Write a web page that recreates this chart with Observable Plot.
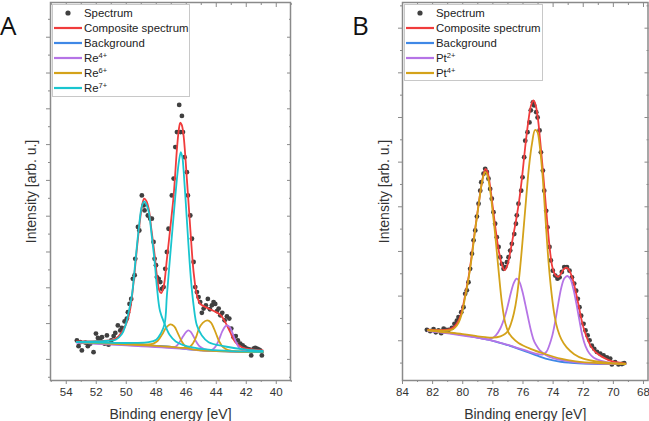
<!DOCTYPE html>
<html>
<head>
<meta charset="utf-8">
<script src="https://cdn.jsdelivr.net/npm/d3@7"></script>
<script src="https://cdn.jsdelivr.net/npm/@observablehq/plot@0.6"></script>
<style>
  body { margin: 0; background: #fff; }
  #fig { position: relative; width: 649px; height: 421px; overflow: hidden; font-family: "Liberation Sans", Arial, sans-serif; }
  .panel { position: absolute; top: 0; }
  .panel g[aria-label="x-axis label"], .panel g[aria-label="y-axis label"] { font-size: 14px; }
  .panel g[aria-label="x-axis tick label"] { font-size: 11.5px; }
  .tag { position: absolute; font-size: 26px; line-height: 26px; color: #111; font-family: "Open Sans", "Liberation Sans", sans-serif; }
  .legend { position: absolute; background: #fff; border: 1px solid #c8c8c8; box-sizing: border-box; }
  .legend .row { display: flex; align-items: center; height: 15.1px; font-size: 11.4px; color: #222; white-space: nowrap; }
  .legend svg { margin-left: 0.5px; margin-right: 2.5px; flex: none; }
  .legend sup { font-size: 7.5px; vertical-align: 4px; line-height: 0; }
</style>
</head>
<body>
<div id="fig"></div>
<script>
// ---------- Re 4f spectrum: [binding energy (eV), intensity (arb. u.)] ----------
const reSpectrum = [
  [53.29,0.53],[53.18,0.37],[53.07,0.48],[52.96,0.25],[52.73,0.47],[52.56,0.37],[52.40,0.44],[52.18,0.20],
  [52.02,0.72],[51.89,0.60],[51.73,0.53],[51.62,0.62],[51.44,0.44],[51.29,0.67],[51.18,0.41],[51.00,0.53],
  [50.84,0.65],[50.73,0.74],[50.56,0.95],[50.40,0.81],[50.29,0.88],[50.11,1.06],[49.96,1.14],[49.89,1.32],
  [49.78,1.55],[49.67,1.69],[49.56,2.25],[49.44,2.35],[49.40,2.81],[49.22,3.70],[49.13,3.60],[48.96,4.58],
  [48.84,4.30],[48.78,4.16],[48.56,4.02],[48.40,3.93],[48.29,3.93],[48.18,3.28],[48.11,2.81],[48.02,2.63],
  [47.96,2.30],[47.84,2.25],[47.73,2.16],[47.62,1.97],[47.51,2.02],[47.40,2.53],[47.29,3.00],[47.18,3.65],
  [46.96,4.58],[46.84,5.05],[46.73,5.93],[46.62,6.35],[46.47,7.11],[46.38,6.35],[46.29,6.80],[46.22,6.35],
  [46.11,5.65],[45.96,5.23],[45.89,4.58],[45.73,4.02],[45.62,3.37],[45.51,2.72],[45.40,2.02],[45.29,1.88],
  [45.18,1.74],[45.07,1.60],[44.96,1.30],[44.84,1.42],[44.69,1.51],[44.56,1.69],[44.42,1.40],[44.29,1.51],
  [44.18,1.60],[44.07,1.55],[43.95,1.35],[43.84,1.42],[43.73,1.23],[43.60,1.30],[43.44,1.09],[43.29,1.20],
  [43.13,1.14],[43.00,0.86],[42.84,0.62],[42.70,0.65],[42.56,0.53],[42.40,0.44],[42.24,0.39],[42.11,0.34],
  [41.96,0.30],[41.80,0.28],[41.67,0.11],[41.51,0.30],[41.40,0.32],[41.29,0.30],[41.18,0.28],[41.07,0.25],
  [40.96,0.11]
];
const reComposite = [
  [53.3,0.50],[52.0,0.51],[51.0,0.54],[50.7,0.58],[50.3,0.76],[49.96,1.04],[49.73,1.42],[49.51,2.16],
  [49.29,3.09],[49.07,3.93],[48.92,4.35],[48.8,4.49],[48.65,4.42],[48.5,4.20],[48.33,3.65],[48.13,3.00],
  [47.96,2.35],[47.8,1.93],[47.67,1.85],[47.51,2.02],[47.29,2.80],[47.07,3.65],[46.84,4.58],[46.62,5.88],
  [46.5,6.40],[46.4,6.61],[46.3,6.55],[46.18,6.26],[45.96,5.05],[45.73,3.65],[45.51,2.44],[45.29,1.79],
  [45.07,1.55],[44.8,1.48],[44.51,1.42],[44.2,1.36],[43.84,1.28],[43.6,1.18],[43.4,1.04],[43.07,0.76],
  [42.73,0.48],[42.29,0.34],[41.5,0.27],[40.9,0.25]
];
const reBackground = [
  [53.3,0.48],[52.0,0.47],[51.0,0.46],[50.0,0.45],[49.5,0.44],[49.0,0.42],[48.5,0.40],[48.0,0.38],
  [47.5,0.37],[47.0,0.35],[46.5,0.32],[46.0,0.29],[45.5,0.27],[45.0,0.25],[44.5,0.24],[44.0,0.23],
  [43.0,0.22],[42.0,0.21],[40.9,0.20]
];
const re4a = [
  [53.3,0.47],[48.0,0.36],[47.0,0.34],[46.7,0.36],[46.45,0.48],[46.2,0.65],[46.0,0.77],[45.87,0.81],
  [45.7,0.77],[45.5,0.63],[45.3,0.47],[45.1,0.36],[44.8,0.29],[44.3,0.25],[43.0,0.22],[40.9,0.20]
];
const re4b = [
  [53.3,0.47],[46.0,0.29],[45.0,0.25],[44.4,0.25],[44.1,0.33],[43.85,0.52],[43.6,0.78],[43.4,0.92],
  [43.28,0.95],[43.1,0.90],[42.9,0.72],[42.7,0.50],[42.5,0.34],[42.3,0.26],[41.8,0.22],[40.9,0.20]
];
const re6a = [
  [53.3,0.48],[50.0,0.45],[48.6,0.42],[48.2,0.44],[47.9,0.52],[47.6,0.70],[47.35,0.88],[47.05,0.98],
  [46.8,0.92],[46.55,0.72],[46.3,0.50],[46.05,0.36],[45.8,0.30],[45.5,0.27],[45.0,0.25],[44.0,0.23],
  [42.0,0.21],[40.9,0.20]
];
const re6b = [
  [53.3,0.48],[48.0,0.38],[47.0,0.35],[46.2,0.32],[45.85,0.33],[45.6,0.42],[45.35,0.62],[45.15,0.86],
  [44.9,1.02],[44.6,1.09],[44.35,1.03],[44.15,0.86],[43.95,0.65],[43.8,0.50],[43.55,0.34],[43.2,0.26],
  [42.5,0.22],[40.9,0.20]
];
const re7a = [
  [53.3,0.49],[52.0,0.50],[51.2,0.52],[50.7,0.55],[50.3,0.70],[50.05,0.95],[49.85,1.30],[49.62,1.80],
  [49.4,2.70],[49.18,3.60],[48.96,4.28],[48.8,4.41],[48.65,4.32],[48.5,4.12],[48.3,3.45],[48.1,2.70],
  [47.95,2.00],[47.75,1.35],[47.45,1.00],[47.1,0.68],[46.7,0.50],[46.2,0.40],[45.5,0.33],[44.5,0.27],
  [43.0,0.23],[40.9,0.21]
];
const re7b = [
  [53.3,0.48],[51.0,0.46],[49.5,0.46],[48.5,0.48],[48.0,0.55],[47.7,0.72],[47.44,1.00],[47.29,1.79],
  [47.07,2.90],[46.84,4.02],[46.62,5.05],[46.48,5.55],[46.36,5.79],[46.25,5.62],[46.18,5.30],[46.02,4.30],
  [45.85,3.18],[45.69,2.25],[45.51,1.51],[45.29,0.95],[44.96,0.67],[44.51,0.48],[43.4,0.36],[42.0,0.27],
  [40.9,0.24]
];

// ---------- Pt 4f spectrum: [binding energy (eV), intensity (arb. u.)] ----------
const ptSpectrum = [
  [82.38,0.245],[82.16,0.215],[81.94,0.26],[81.79,0.19],[81.61,0.23],[81.43,0.17],[81.27,0.27],[81.12,0.245],
  [80.94,0.245],[80.72,0.29],[80.55,0.38],[80.39,0.45],[80.28,0.53],[80.10,0.64],[79.95,0.75],[79.84,1.05],
  [79.73,1.13],[79.62,1.31],[79.51,1.61],[79.39,1.95],[79.28,2.25],[79.17,2.47],[79.06,2.78],[78.95,3.07],
  [78.84,3.36],[78.77,3.55],[78.62,3.74],[78.51,3.85],[78.40,3.78],[78.29,3.63],[78.18,3.40],[78.07,3.18],
  [77.96,2.88],[77.85,2.62],[77.74,2.32],[77.62,2.10],[77.51,1.87],[77.40,1.72],[77.29,1.61],[77.18,1.65],
  [77.07,1.76],[76.96,1.87],[76.85,2.02],[76.74,2.17],[76.58,2.39],[76.47,2.62],[76.41,2.81],[76.30,3.07],
  [76.12,3.36],[76.03,3.66],[75.92,4.11],[75.85,4.48],[75.70,4.67],[75.57,4.89],[75.48,5.16],[75.34,5.34],
  [75.26,5.27],[75.12,5.12],[75.03,5.00],[74.90,4.71],[74.81,4.22],[74.68,3.81],[74.59,3.36],[74.46,2.91],
  [74.37,2.54],[74.24,2.10],[74.15,1.80],[74.02,1.57],[73.86,1.46],[73.71,1.39],[73.57,1.42],[73.42,1.54],
  [73.26,1.65],[73.08,1.65],[72.91,1.57],[72.75,1.42],[72.60,1.28],[72.47,1.12],[72.36,0.94],[72.25,0.75],
  [72.14,0.56],[71.98,0.38],[71.85,0.23],[71.71,0.12],[71.58,0.01],[71.43,-0.11],[71.27,-0.18],[71.09,-0.25],
  [70.87,-0.29],[70.65,-0.33],[70.43,-0.37],[70.21,-0.40],[70.10,-0.53],[69.88,-0.48],[69.66,-0.53],[69.43,-0.52],
  [69.28,-0.50]
];
const ptComposite = [
  [82.3,0.25],[81.5,0.24],[81.0,0.25],[80.72,0.28],[80.5,0.34],[80.28,0.45],[80.05,0.68],[79.84,1.02],
  [79.6,1.45],[79.39,1.95],[79.17,2.52],[78.95,3.05],[78.75,3.50],[78.6,3.75],[78.48,3.85],[78.35,3.78],
  [78.18,3.45],[78.0,2.98],[77.8,2.45],[77.6,2.00],[77.4,1.70],[77.22,1.58],[77.05,1.68],[76.85,1.98],
  [76.65,2.35],[76.45,2.72],[76.25,3.15],[76.05,3.70],[75.85,4.35],[75.65,4.90],[75.48,5.25],[75.32,5.38],
  [75.18,5.30],[75.02,5.00],[74.85,4.45],[74.65,3.70],[74.45,2.90],[74.25,2.15],[74.05,1.65],[73.85,1.47],
  [73.65,1.43],[73.45,1.52],[73.25,1.62],[73.05,1.63],[72.9,1.56],[72.7,1.38],[72.5,1.10],[72.3,0.78],
  [72.1,0.45],[71.9,0.20],[71.7,0.02],[71.5,-0.12],[71.2,-0.25],[70.8,-0.35],[70.4,-0.42],[70.0,-0.47],
  [69.2,-0.51]
];
const ptBackground = [
  [82.3,0.22],[81.0,0.18],[80.0,0.13],[79.0,0.07],[78.0,0.00],[77.0,-0.10],[76.3,-0.18],[75.5,-0.28],
  [75.0,-0.34],[74.5,-0.40],[74.0,-0.44],[73.5,-0.47],[73.0,-0.49],[72.0,-0.51],[71.0,-0.52],[69.2,-0.52]
];
const pt2a = [
  [82.3,0.22],[80.0,0.13],[79.0,0.07],[78.4,0.03],[78.1,0.05],[77.8,0.12],[77.5,0.28],[77.2,0.55],
  [77.0,0.80],[76.8,1.08],[76.6,1.30],[76.42,1.39],[76.25,1.33],[76.05,1.12],[75.85,0.82],[75.65,0.50],
  [75.45,0.20],[75.25,-0.02],[75.0,-0.16],[74.8,-0.24],[74.5,-0.32],[74.0,-0.39],[73.0,-0.46],[72.0,-0.50],
  [69.2,-0.52]
];
const pt2b = [
  [82.3,0.22],[78.0,0.00],[76.0,-0.20],[75.0,-0.30],[74.7,-0.31],[74.45,-0.25],[74.25,-0.10],[74.05,0.12],
  [73.85,0.45],[73.65,0.85],[73.45,1.20],[73.25,1.40],[73.05,1.45],[72.85,1.38],[72.65,1.15],[72.45,0.82],
  [72.25,0.45],[72.05,0.10],[71.85,-0.12],[71.6,-0.28],[71.3,-0.38],[70.8,-0.45],[70.0,-0.50],[69.2,-0.52]
];
const pt4a = [
  [82.3,0.24],[81.5,0.23],[81.0,0.23],[80.72,0.25],[80.5,0.30],[80.28,0.40],[80.05,0.62],[79.84,0.98],
  [79.6,1.42],[79.39,1.90],[79.17,2.50],[78.95,3.03],[78.75,3.50],[78.6,3.72],[78.5,3.78],[78.38,3.72],
  [78.18,3.36],[78.0,2.85],[77.85,2.39],[77.62,1.57],[77.4,0.85],[77.18,0.40],[76.95,0.18],[76.74,0.08],
  [76.3,-0.05],[75.5,-0.18],[74.5,-0.30],[73.5,-0.40],[72.5,-0.46],[71.0,-0.50],[69.2,-0.52]
];
const pt4b = [
  [82.3,0.23],[80.0,0.15],[79.0,0.10],[78.5,0.08],[78.0,0.07],[77.5,0.10],[77.2,0.15],[77.0,0.22],
  [76.8,0.38],[76.6,0.62],[76.4,1.00],[76.2,1.60],[76.0,2.35],[75.8,3.15],[75.6,3.90],[75.4,4.42],
  [75.2,4.72],[75.05,4.68],[74.9,4.40],[74.7,3.70],[74.5,2.70],[74.3,1.75],[74.1,1.05],[73.9,0.55],
  [73.7,0.25],[73.45,0.03],[73.1,-0.15],[72.6,-0.30],[72.0,-0.40],[71.0,-0.47],[70.0,-0.50],[69.2,-0.51]
];

// ---------- axis ticks ----------
const reEnergyMajor = [54, 52, 50, 48, 46, 44, 42, 40];
const reEnergyMinor = [55, 53, 51, 49, 47, 45, 43, 41, 39];
const ptEnergyMajor = [84, 82, 80, 78, 76, 74, 72, 70, 68];
const ptEnergyMinor = [83, 81, 79, 77, 75, 73, 71, 69];
const reIntensityMajor = [0, 1, 2, 3, 4, 5, 6, 7, 8, 9];
const reIntensityMinor = [-0.5, 0.5, 1.5, 2.5, 3.5, 4.5, 5.5, 6.5, 7.5, 8.5, 9.5];
const ptIntensityMajor = [0, 1, 2, 3, 4, 5, 6, 7];
const ptIntensityMinor = [-0.5, 0.5, 1.5, 2.5, 3.5, 4.5, 5.5, 6.5, 7.5];

// ---------- series colours ----------
const color = {
  spectrum: "#404040",
  composite: "#f03c3c",
  background: "#3f88e6",
  purple: "#b574e6",
  gold: "#d4a21a",
  cyan: "#19c5cf"
};

const FONT = '"Liberation Sans", Arial, sans-serif';
const AXIS = "#8a8a8a";
const INK = "#333";

function panel({spectrum, curves, xDomain, xMajor, xMinor, yDomain, yMajor, yMinor,
                width, marginLeft, marginRight, yLabelOffset}) {
  const none = () => "";
  return Plot.plot({
    width, height: 421,
    marginTop: 2, marginBottom: 41, marginLeft, marginRight,
    style: {fontFamily: FONT, background: "none", overflow: "visible", color: INK},
    x: {domain: xDomain},
    y: {domain: yDomain},
    marks: [
      Plot.dot(spectrum, {x: d => d[0], y: d => d[1], r: 2.4, fill: color.spectrum, stroke: "none"}),
      ...curves.map(c => Plot.line(c.data, {
        x: d => d[0], y: d => d[1], stroke: c.stroke, strokeWidth: 1.8, curve: "catmull-rom"
      })),
      Plot.frame({stroke: AXIS, strokeWidth: 1.5}),
      // bottom: labelled majors, minors, title
      Plot.axisX(xMajor, {anchor: "bottom", tickSize: 4, tickPadding: 3, stroke: AXIS, fill: INK,
        fontSize: 11.5, label: null}),
      Plot.axisX(xMinor, {anchor: "bottom", tickSize: 2, stroke: AXIS, tickFormat: none, label: null}),
      Plot.axisX([], {anchor: "bottom", tickSize: 0, fill: INK, fontSize: 14,
        label: "Binding energy [eV]", labelAnchor: "center", labelOffset: 38, labelArrow: "none"}),
      // top: inward ticks
      Plot.axisX(xMajor, {anchor: "top", tickSize: -4, stroke: AXIS, tickFormat: none, label: null}),
      Plot.axisX(xMinor, {anchor: "top", tickSize: -2, stroke: AXIS, tickFormat: none, label: null}),
      // left: unlabelled ticks and title
      Plot.axisY(yMajor, {anchor: "left", tickSize: 4, stroke: AXIS, tickFormat: none, label: null}),
      Plot.axisY(yMinor, {anchor: "left", tickSize: 2, stroke: AXIS, tickFormat: none, label: null}),
      Plot.axisY([], {anchor: "left", tickSize: 0, fill: INK, fontSize: 14,
        label: "Intensity [arb. u.]", labelAnchor: "center", labelOffset: yLabelOffset, labelArrow: "none"}),
      // right: inward ticks
      Plot.axisY(yMajor, {anchor: "right", tickSize: -4, stroke: AXIS, tickFormat: none, label: null}),
      Plot.axisY(yMinor, {anchor: "right", tickSize: -2, stroke: AXIS, tickFormat: none, label: null})
    ]
  });
}

function legend(items, box) {
  const el = document.createElement("div");
  el.className = "legend";
  Object.assign(el.style, {left: box.left + "px", top: box.top + "px", width: box.width + "px", height: box.height + "px"});
  for (const it of items) {
    const row = document.createElement("div");
    row.className = "row";
    const sw = d3.create("svg").attr("width", 28).attr("height", 10);
    if (it.dot) sw.append("circle").attr("cx", 14).attr("cy", 5).attr("r", 2.6).attr("fill", it.color);
    else sw.append("line").attr("x1", 0).attr("x2", 28).attr("y1", 5).attr("y2", 5)
      .attr("stroke", it.color).attr("stroke-width", 2.2);
    row.append(sw.node());
    const text = document.createElement("span");
    text.append(it.name);
    if (it.sup) {
      const s = document.createElement("sup");
      s.textContent = it.sup;
      text.append(s);
    }
    row.append(text);
    el.append(row);
  }
  return el;
}

function tag(letter, left) {
  const el = document.createElement("div");
  el.className = "tag";
  el.textContent = letter;
  el.style.left = left + "px";
  el.style.top = "12px";
  return el;
}

const fig = document.getElementById("fig");

// Panel A: Re 4f
const plotA = panel({
  spectrum: reSpectrum,
  curves: [
    {data: reComposite, stroke: color.composite},
    {data: reBackground, stroke: color.background},
    {data: re4a, stroke: color.purple}, {data: re4b, stroke: color.purple},
    {data: re6a, stroke: color.gold}, {data: re6b, stroke: color.gold},
    {data: re7a, stroke: color.cyan}, {data: re7b, stroke: color.cyan}
  ],
  xDomain: [55.05, 39.05], xMajor: reEnergyMajor, xMinor: reEnergyMinor,
  yDomain: [-0.59, 9.97], yMajor: reIntensityMajor, yMinor: reIntensityMinor,
  width: 325, marginLeft: 50, marginRight: 35, yLabelOffset: 24
});
plotA.classList.add("panel");
plotA.style.left = "0px";
fig.append(plotA);

// Panel B: Pt 4f
const plotB = panel({
  spectrum: ptSpectrum,
  curves: [
    {data: ptComposite, stroke: color.composite},
    {data: ptBackground, stroke: color.background},
    {data: pt2a, stroke: color.purple}, {data: pt2b, stroke: color.purple},
    {data: pt4a, stroke: color.gold}, {data: pt4b, stroke: color.gold}
  ],
  xDomain: [84, 67.7], xMajor: ptEnergyMajor, xMinor: ptEnergyMinor,
  yDomain: [-0.89, 7.575], yMajor: ptIntensityMajor, yMinor: ptIntensityMinor,
  width: 324, marginLeft: 77, marginRight: 1.5, yLabelOffset: 23
});
plotB.classList.add("panel");
plotB.style.left = "325px";
fig.append(plotB);

fig.append(legend([
  {name: "Spectrum", color: color.spectrum, dot: true},
  {name: "Composite spectrum", color: color.composite},
  {name: "Background", color: color.background},
  {name: "Re", sup: "4+", color: color.purple},
  {name: "Re", sup: "6+", color: color.gold},
  {name: "Re", sup: "7+", color: color.cyan}
], {left: 52, top: 4, width: 138, height: 93}));

fig.append(legend([
  {name: "Spectrum", color: color.spectrum, dot: true},
  {name: "Composite spectrum", color: color.composite},
  {name: "Background", color: color.background},
  {name: "Pt", sup: "2+", color: color.purple},
  {name: "Pt", sup: "4+", color: color.gold}
], {left: 404, top: 4, width: 139, height: 77}));

fig.append(tag("A", 0));
fig.append(tag("B", 352));
</script>
</body>
</html>
